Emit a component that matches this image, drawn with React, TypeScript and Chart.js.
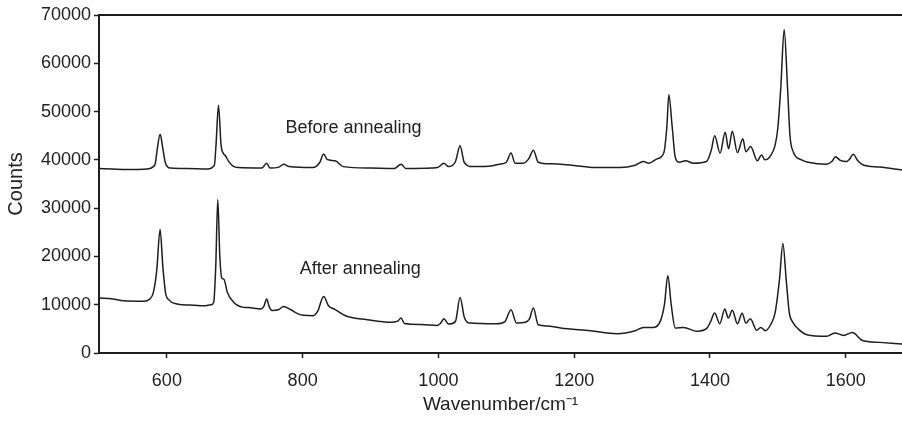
import React, { useEffect, useRef } from "react";
import { Chart, registerables } from "chart.js";

Chart.register(...registerables);

const beforeWn = [500, 520, 550, 570, 580, 583, 586, 590, 594, 598, 605, 630, 660, 670, 672.4, 676, 679.8, 683.7, 686, 690.5, 697.5, 705, 740, 747, 752, 765, 772, 780, 815, 825, 831, 836, 848, 860, 900, 935, 945, 952, 990, 1000, 1008, 1015, 1025, 1032, 1038, 1050, 1080, 1090, 1100, 1107, 1113, 1125, 1133, 1140, 1147, 1160, 1180, 1210, 1233, 1268, 1290, 1302, 1310, 1322, 1332, 1336.6, 1339.5, 1344.4, 1349, 1355, 1364, 1376, 1395, 1402, 1407, 1415, 1422.5, 1427.5, 1433, 1440.5, 1448.5, 1453, 1460, 1470, 1476, 1481, 1490, 1496, 1500, 1504.5, 1509.4, 1514.3, 1518, 1523, 1535, 1545, 1572, 1580, 1585, 1592, 1601, 1606, 1611, 1618, 1625, 1650, 1683];
const beforeCounts = [38200, 38100, 38000, 38100, 38600, 39300, 42400, 45300, 42400, 39300, 38300, 38200, 38100, 38900, 43100, 51300, 43100, 41200, 40900, 39800, 38700, 38400, 38300, 39300, 38300, 38500, 39100, 38600, 38400, 39400, 41200, 40100, 39800, 38600, 38300, 38200, 39100, 38200, 38300, 38500, 39300, 38600, 39600, 42900, 39500, 38600, 38800, 39100, 39500, 41400, 39300, 39300, 40200, 42000, 39500, 39200, 39100, 38700, 38400, 38400, 38900, 39650, 39300, 40200, 41400, 46900, 53500, 46900, 40500, 39500, 39800, 39300, 39650, 42000, 45000, 41400, 45700, 42300, 45900, 41500, 44350, 41700, 42750, 39800, 41000, 40000, 41000, 43000, 46500, 55150, 67000, 55150, 45000, 41600, 40000, 39500, 39100, 39700, 40650, 39900, 39650, 40200, 41150, 39800, 39000, 38500, 37900];

const afterWn = [500, 520, 536, 566, 575, 580, 585, 590, 594, 598, 603, 615, 640, 654, 665, 669, 672, 675, 678, 681, 684, 689, 699, 713, 720, 738, 743, 747, 751, 755, 765, 772, 782, 795, 802, 815, 822, 831, 838, 848, 865, 895, 929, 940, 945, 950, 975, 998, 1003, 1008, 1015, 1025, 1032, 1038, 1045, 1086, 1098, 1107, 1115, 1128, 1134, 1140, 1147, 1160, 1180, 1224, 1263, 1290, 1302, 1317, 1327, 1333, 1338, 1343, 1349, 1361, 1381, 1396, 1401, 1407, 1414.5, 1422, 1427, 1433, 1440.5, 1447.5, 1453, 1459.5, 1469, 1475, 1481.5, 1490, 1496, 1502.5, 1507.5, 1512.4, 1517, 1522, 1530, 1543, 1572, 1584, 1597, 1610, 1624, 1650, 1683];
const afterCounts = [11400, 11200, 10800, 10700, 11200, 12500, 17000, 25600, 18000, 12500, 11000, 10150, 9900, 9800, 10000, 10500, 18000, 31800, 20000, 15500, 15300, 12600, 10400, 9450, 9400, 9100, 9700, 11200, 9500, 8800, 9000, 9650, 9000, 8000, 7800, 7700, 8600, 11700, 9800, 9000, 7600, 6900, 6350, 6600, 7250, 6100, 5900, 5700, 6100, 7100, 6000, 6500, 11500, 7500, 6200, 6050, 6500, 8950, 6200, 6350, 7000, 9300, 5850, 5600, 5170, 4600, 4000, 4600, 5300, 5300, 6600, 10000, 16000, 10000, 5200, 5300, 4500, 5200, 6500, 8300, 6050, 9100, 7250, 8850, 6050, 8250, 6200, 7100, 4700, 5300, 4600, 6000, 8300, 15200, 22700, 15200, 8300, 6400, 5000, 3800, 3450, 4150, 3650, 4250, 2650, 2200, 1850];

const xTicks = [600, 800, 1000, 1200, 1400, 1600];
const yTicks = [0, 10000, 20000, 30000, 40000, 50000, 60000, 70000];

const labelTexts = ["Before annealing", "After annealing"];
const labelWn = [875, 885];
const labelCounts = [46600, 17400];

const INK = "#1e1e1e";
const FONT = "'Liberation Sans', Arial, Helvetica, sans-serif";

export default function App() {
  const ref = useRef<HTMLCanvasElement | null>(null);

  useEffect(() => {
    if (!ref.current) return;
    const toPts = (xs: number[], ys: number[]) => xs.map((x, i) => ({ x, y: ys[i] }));

    const extras = {
      id: "extras",
      afterDraw(chart: any) {
        const { ctx, chartArea, scales } = chart;
        ctx.save();
        ctx.strokeStyle = INK;
        ctx.lineWidth = 2;
        ctx.beginPath();
        ctx.moveTo(chartArea.left - 1, chartArea.top);
        ctx.lineTo(chartArea.right, chartArea.top);
        ctx.stroke();
        ctx.fillStyle = "#222";
        ctx.font = `18px ${FONT}`;
        ctx.textAlign = "center";
        ctx.textBaseline = "middle";
        labelTexts.forEach((t, i) => {
          ctx.fillText(t, scales.x.getPixelForValue(labelWn[i]), scales.y.getPixelForValue(labelCounts[i]));
        });
        ctx.restore();
      },
    };

    const chart = new Chart(ref.current, {
      type: "line",
      data: {
        datasets: [
          {
            label: "Before annealing",
            data: toPts(beforeWn, beforeCounts),
            borderColor: INK,
            borderWidth: 1.5,
            pointRadius: 0,
            cubicInterpolationMode: "monotone",
            fill: false,
          },
          {
            label: "After annealing",
            data: toPts(afterWn, afterCounts),
            borderColor: INK,
            borderWidth: 1.5,
            pointRadius: 0,
            cubicInterpolationMode: "monotone",
            fill: false,
          },
        ],
      },
      options: {
        responsive: false,
        animation: false,
        layout: { padding: { top: 15, right: 0, left: 0, bottom: 0 } },
        plugins: { legend: { display: false }, tooltip: { enabled: false } },
        scales: {
          x: {
            type: "linear",
            min: 500,
            max: 1683,
            afterBuildTicks: (s: any) => {
              s.ticks = xTicks.map((v) => ({ value: v }));
            },
            afterFit: (s: any) => {
              s.height = 68;
            },
            border: { display: true, color: INK, width: 2 },
            grid: { drawOnChartArea: false, drawTicks: true, tickLength: 5, tickColor: INK, tickWidth: 1.5 },
            ticks: {
              color: "#222",
              font: { family: FONT, size: 18 },
              padding: 12,
              maxRotation: 0,
              callback: (v: any) => String(v),
            },
            title: {
              display: true,
              text: "Wavenumber/cm⁻¹",
              color: "#222",
              font: { family: FONT, size: 19 },
              padding: { top: 0, bottom: 5 },
            },
          },
          y: {
            min: 0,
            max: 70000,
            afterBuildTicks: (s: any) => {
              s.ticks = yTicks.map((v) => ({ value: v }));
            },
            afterFit: (s: any) => {
              s.width = 99;
            },
            border: { display: true, color: INK, width: 2 },
            grid: { drawOnChartArea: false, drawTicks: true, tickLength: 5, tickColor: INK, tickWidth: 1.5 },
            ticks: {
              color: "#222",
              font: { family: FONT, size: 18 },
              padding: 3,
              callback: (v: any) => String(v),
            },
            title: {
              display: true,
              text: "Counts",
              color: "#222",
              font: { family: FONT, size: 20 },
              padding: { top: 4, bottom: 0 },
            },
          },
        },
      },
      plugins: [extras],
    });
    return () => chart.destroy();
  }, []);

  return (
    <div style={{ position: "fixed", left: 0, top: 0, width: 902, height: 421, background: "#fff" }}>
      <canvas ref={ref} width={902} height={421} style={{ display: "block" }} />
    </div>
  );
}
